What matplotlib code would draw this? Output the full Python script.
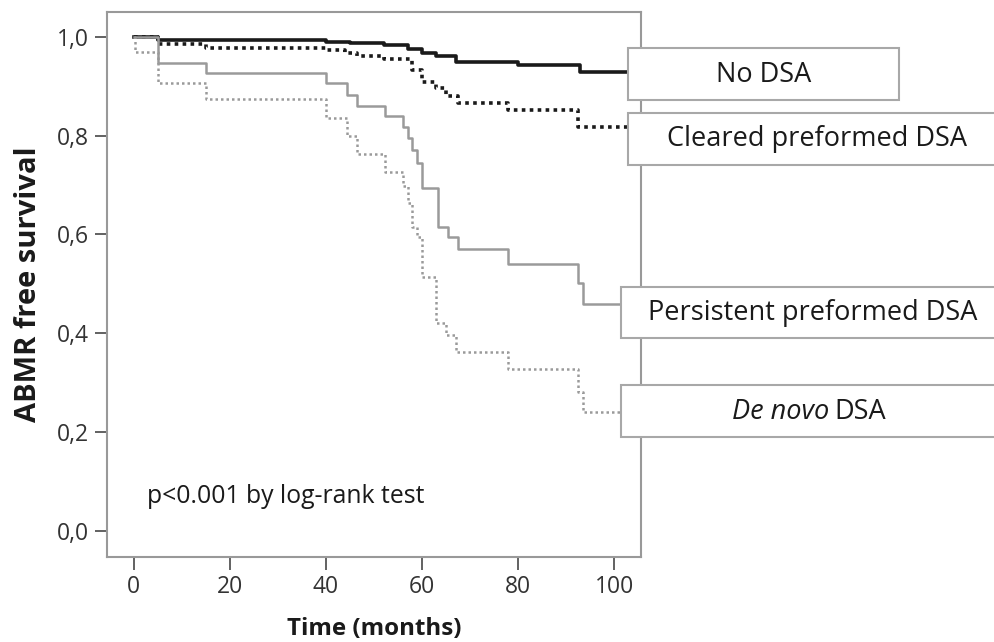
import matplotlib.pyplot as plt
from matplotlib.patches import Rectangle

# Kaplan-Meier step data (months, survival)
t_nodsa = [0, 5, 40, 45, 52, 57, 60, 63, 67, 80, 93, 105]
s_nodsa = [1.0, 0.994, 0.99, 0.987, 0.983, 0.975, 0.967, 0.96, 0.948, 0.943, 0.929, 0.929]

t_cleared = [0, 5, 15, 40, 44, 46.4, 52, 58, 60, 63, 65, 67.5, 78, 92.5, 105]
s_cleared = [1.0, 0.985, 0.978, 0.973, 0.967, 0.96, 0.955, 0.933, 0.909, 0.897, 0.879, 0.866, 0.852, 0.818, 0.818]

t_persist = [0, 5, 15, 40, 44.3, 46.4, 52.3, 56, 57, 58, 59, 60, 63.3, 65.4, 67.5, 78, 92.5, 93.5, 105]
s_persist = [1.0, 0.947, 0.927, 0.907, 0.883, 0.86, 0.84, 0.818, 0.796, 0.771, 0.745, 0.694, 0.615, 0.595, 0.571, 0.54, 0.502, 0.459, 0.459]

t_denovo = [0, 0.3, 5, 15, 40, 44.3, 46.4, 52.3, 56, 57, 58, 59, 60, 63, 65, 67, 78, 92.5, 93.5, 105]
s_denovo = [1.0, 0.97, 0.907, 0.874, 0.835, 0.80, 0.763, 0.727, 0.697, 0.664, 0.615, 0.595, 0.514, 0.421, 0.397, 0.362, 0.328, 0.281, 0.241, 0.241]

labels = ["No DSA", "Cleared preformed DSA", "Persistent preformed DSA", "De novo DSA"]
# label boxes: left x (months), bottom y, top y
box_x = [102.9, 102.9, 101.5, 101.5]
box_y0 = [0.872, 0.741, 0.391, 0.19]
box_y1 = [0.978, 0.846, 0.494, 0.296]
box_w = [56.5, 100, 100, 100]

xticks = [0, 20, 40, 60, 80, 100]
yticks = [0.0, 0.2, 0.4, 0.6, 0.8, 1.0]
ytick_labels = ["0,0", "0,2", "0,4", "0,6", "0,8", "1,0"]

plt.rcParams['font.family'] = ['Open Sans', 'DejaVu Sans']

fig = plt.figure(figsize=(9.94, 6.42), dpi=100)
ax = fig.add_axes([107/994, 1-557/642, 534/994, 545/642])

grey = '#9a9a9a'
ink = '#1a1a1a'
ax.step(t_nodsa, s_nodsa, where='post', color=ink, lw=2.6)
ax.step(t_cleared, s_cleared, where='post', color=ink, lw=2.6, ls=(0, (1, 1.2)))
ax.step(t_persist, s_persist, where='post', color=grey, lw=1.8)
ax.step(t_denovo, s_denovo, where='post', color=grey, lw=1.8, ls=(0, (1, 1.2)))

for i in range(4):
    r = Rectangle((box_x[i], box_y0[i]), box_w[i], box_y1[i]-box_y0[i],
                  facecolor='white', edgecolor='#a8a8a8', lw=1.5,
                  clip_on=False, zorder=5)
    ax.add_patch(r)

kw = dict(va='center', fontsize=19.5, color=ink, zorder=6, clip_on=False)
ax.text(131.1, 0.922, labels[0], ha='center', **kw)
ax.text(142.2, 0.792, labels[1], ha='center', **kw)
ax.text(141.4, 0.44, labels[2], ha='center', **kw)
ax.text(144.8, 0.24, "De novo", ha='right', style='italic', **kw)
ax.text(145.8, 0.24, "DSA", ha='left', **kw)

ax.text(2.7, 0.07, "p<0.001 by log-rank test", ha='left', va='center', fontsize=17.8, color=ink)

ax.set_xlim(-5.6, 105.6)
ax.set_ylim(-0.053, 1.05)
ax.set_xticks(xticks)
ax.set_yticks(yticks)
ax.set_yticklabels(ytick_labels)
ax.tick_params(colors='#555555', labelcolor='#333333', labelsize=16.5, length=9, width=1.3, pad=4)
for s in ax.spines.values():
    s.set_color('#999999')
    s.set_linewidth(1.5)

ax.set_xlabel("Time (months)", fontsize=17.4, fontweight='bold', color=ink, labelpad=13)
ax.set_ylabel("ABMR free survival", fontsize=21, fontweight='bold', color=ink, labelpad=10)

fig.savefig("out.png", dpi=100)
